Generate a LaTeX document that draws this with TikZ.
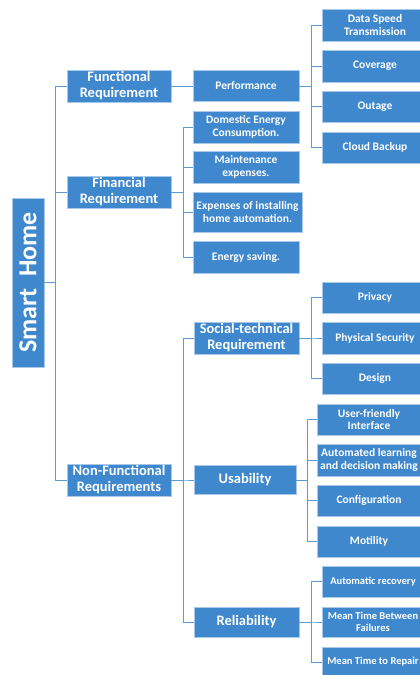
\documentclass[tikz,border=0pt]{standalone}
\usepackage{fontspec}
\setmainfont{Carlito}
\definecolor{boxblue}{HTML}{3F88CE}
\definecolor{boxedge}{HTML}{A8C9EA}
\definecolor{lineblue}{HTML}{5B9BD5}
\begin{document}
\begin{tikzpicture}[x=1pt,y=-1pt,
  box/.style={draw=boxedge, line width=0.6pt, fill=boxblue, text=white,
    font=\bfseries\fontsize{11.5}{12.5}\selectfont, align=center, inner sep=0pt},
  big/.style={font=\bfseries\fontsize{14.5}{16}\selectfont},
  snug/.style={font=\bfseries\fontsize{10.5}{12}\selectfont},
  sz/.style n args={2}{minimum width=#1pt, minimum height=#2pt},
  conn/.style={draw=lineblue, line width=1pt}]
\useasboundingbox (0,0) rectangle (420,675);
\clip (0,0) rectangle (420,675);

% root
\node[box, sz={32}{169}] (root) at (28,282.5)
  {\rotatebox{90}{\fontsize{26}{26}\selectfont Smart\ \ Home}};

% level 1
\node[box, big, sz={104}{32}] (F1) at (119,86) {Functional\\Requirement};
\node[box, big, sz={104}{32}] (F2) at (119,192) {Financial\\Requirement};
\node[box, big, sz={104}{32}] (F3) at (119,480) {Non-Functional\\Requirements};

% level 2
\node[box, sz={106}{31}] (P) at (246,86) {Performance};
\node[box, sz={106}{32}] (D1) at (246,127) {Domestic Energy\\Consumption.};
\node[box, sz={106}{32}] (D2) at (246,167) {Maintenance\\expenses.};
\node[box, sz={109}{40}] (D3) at (247.5,212) {Expenses of installing\\home automation.};
\node[box, sz={106}{32}] (D4) at (246,257) {Energy saving.};
\node[box, big, sz={105}{32}] (S) at (246.5,338) {Social-technical\\Requirement};
\node[box, big, sz={102}{29}] (U) at (245,480) {Usability};
\node[box, big, sz={105}{30}] (R) at (246.5,622) {Reliability};

% level 3
\node[box, sz={106}{32}] (P1) at (375,25) {Data Speed\\Transmission};
\node[box, sz={106}{32}] (P2) at (375,66) {Coverage};
\node[box, sz={106}{31}] (P3) at (375,106.5) {Outage};
\node[box, sz={106}{31}] (P4) at (375,147.5) {Cloud Backup};

\node[box, sz={106}{31}] (S1) at (375,297.5) {Privacy};
\node[box, sz={106}{32}] (S2) at (375,338) {Physical Security};
\node[box, sz={106}{31}] (S3) at (375,378.5) {Design};

\node[box, sz={104}{31}] (U1) at (369,419.5) {User-friendly\\Interface};
\node[box, sz={104}{32}] (U2) at (369,460) {Automated learning\\and decision making};
\node[box, sz={104}{31}] (U3) at (369,500.5) {Configuration};
\node[box, sz={104}{31}] (U4) at (369,541.5) {Motility};

\node[box, snug, sz={102}{31}] (R1) at (373,581.5) {Automatic recovery};
\node[box, snug, sz={102}{30}] (R2) at (373,622) {Mean Time Between\\Failures};
\node[box, snug, sz={102}{30}] (R3) at (373,662) {Mean Time to Repair};

% connectors
\foreach \c in {F1,F2,F3} \draw[conn] (root.east) -- ++(11,0) |- (\c.west);
\draw[conn] (F1.east) -- (P.west);
\foreach \c in {D1,D2,D3,D4} \draw[conn] (F2.east) -- ++(12,0) |- (\c.west);
\foreach \c in {S,U,R} \draw[conn] (F3.east) -- ++(12,0) |- (\c.west);
\foreach \c in {P1,P2,P3,P4} \draw[conn] (P.east) -- ++(12,0) |- (\c.west);
\foreach \c in {S1,S2,S3} \draw[conn] (S.east) -- ++(12,0) |- (\c.west);
\foreach \c in {U1,U2,U3,U4} \draw[conn] (U.east) -- ++(11,0) |- (\c.west);
\foreach \c in {R1,R2,R3} \draw[conn] (R.east) -- ++(12,0) |- (\c.west);
\end{tikzpicture}
\end{document}
